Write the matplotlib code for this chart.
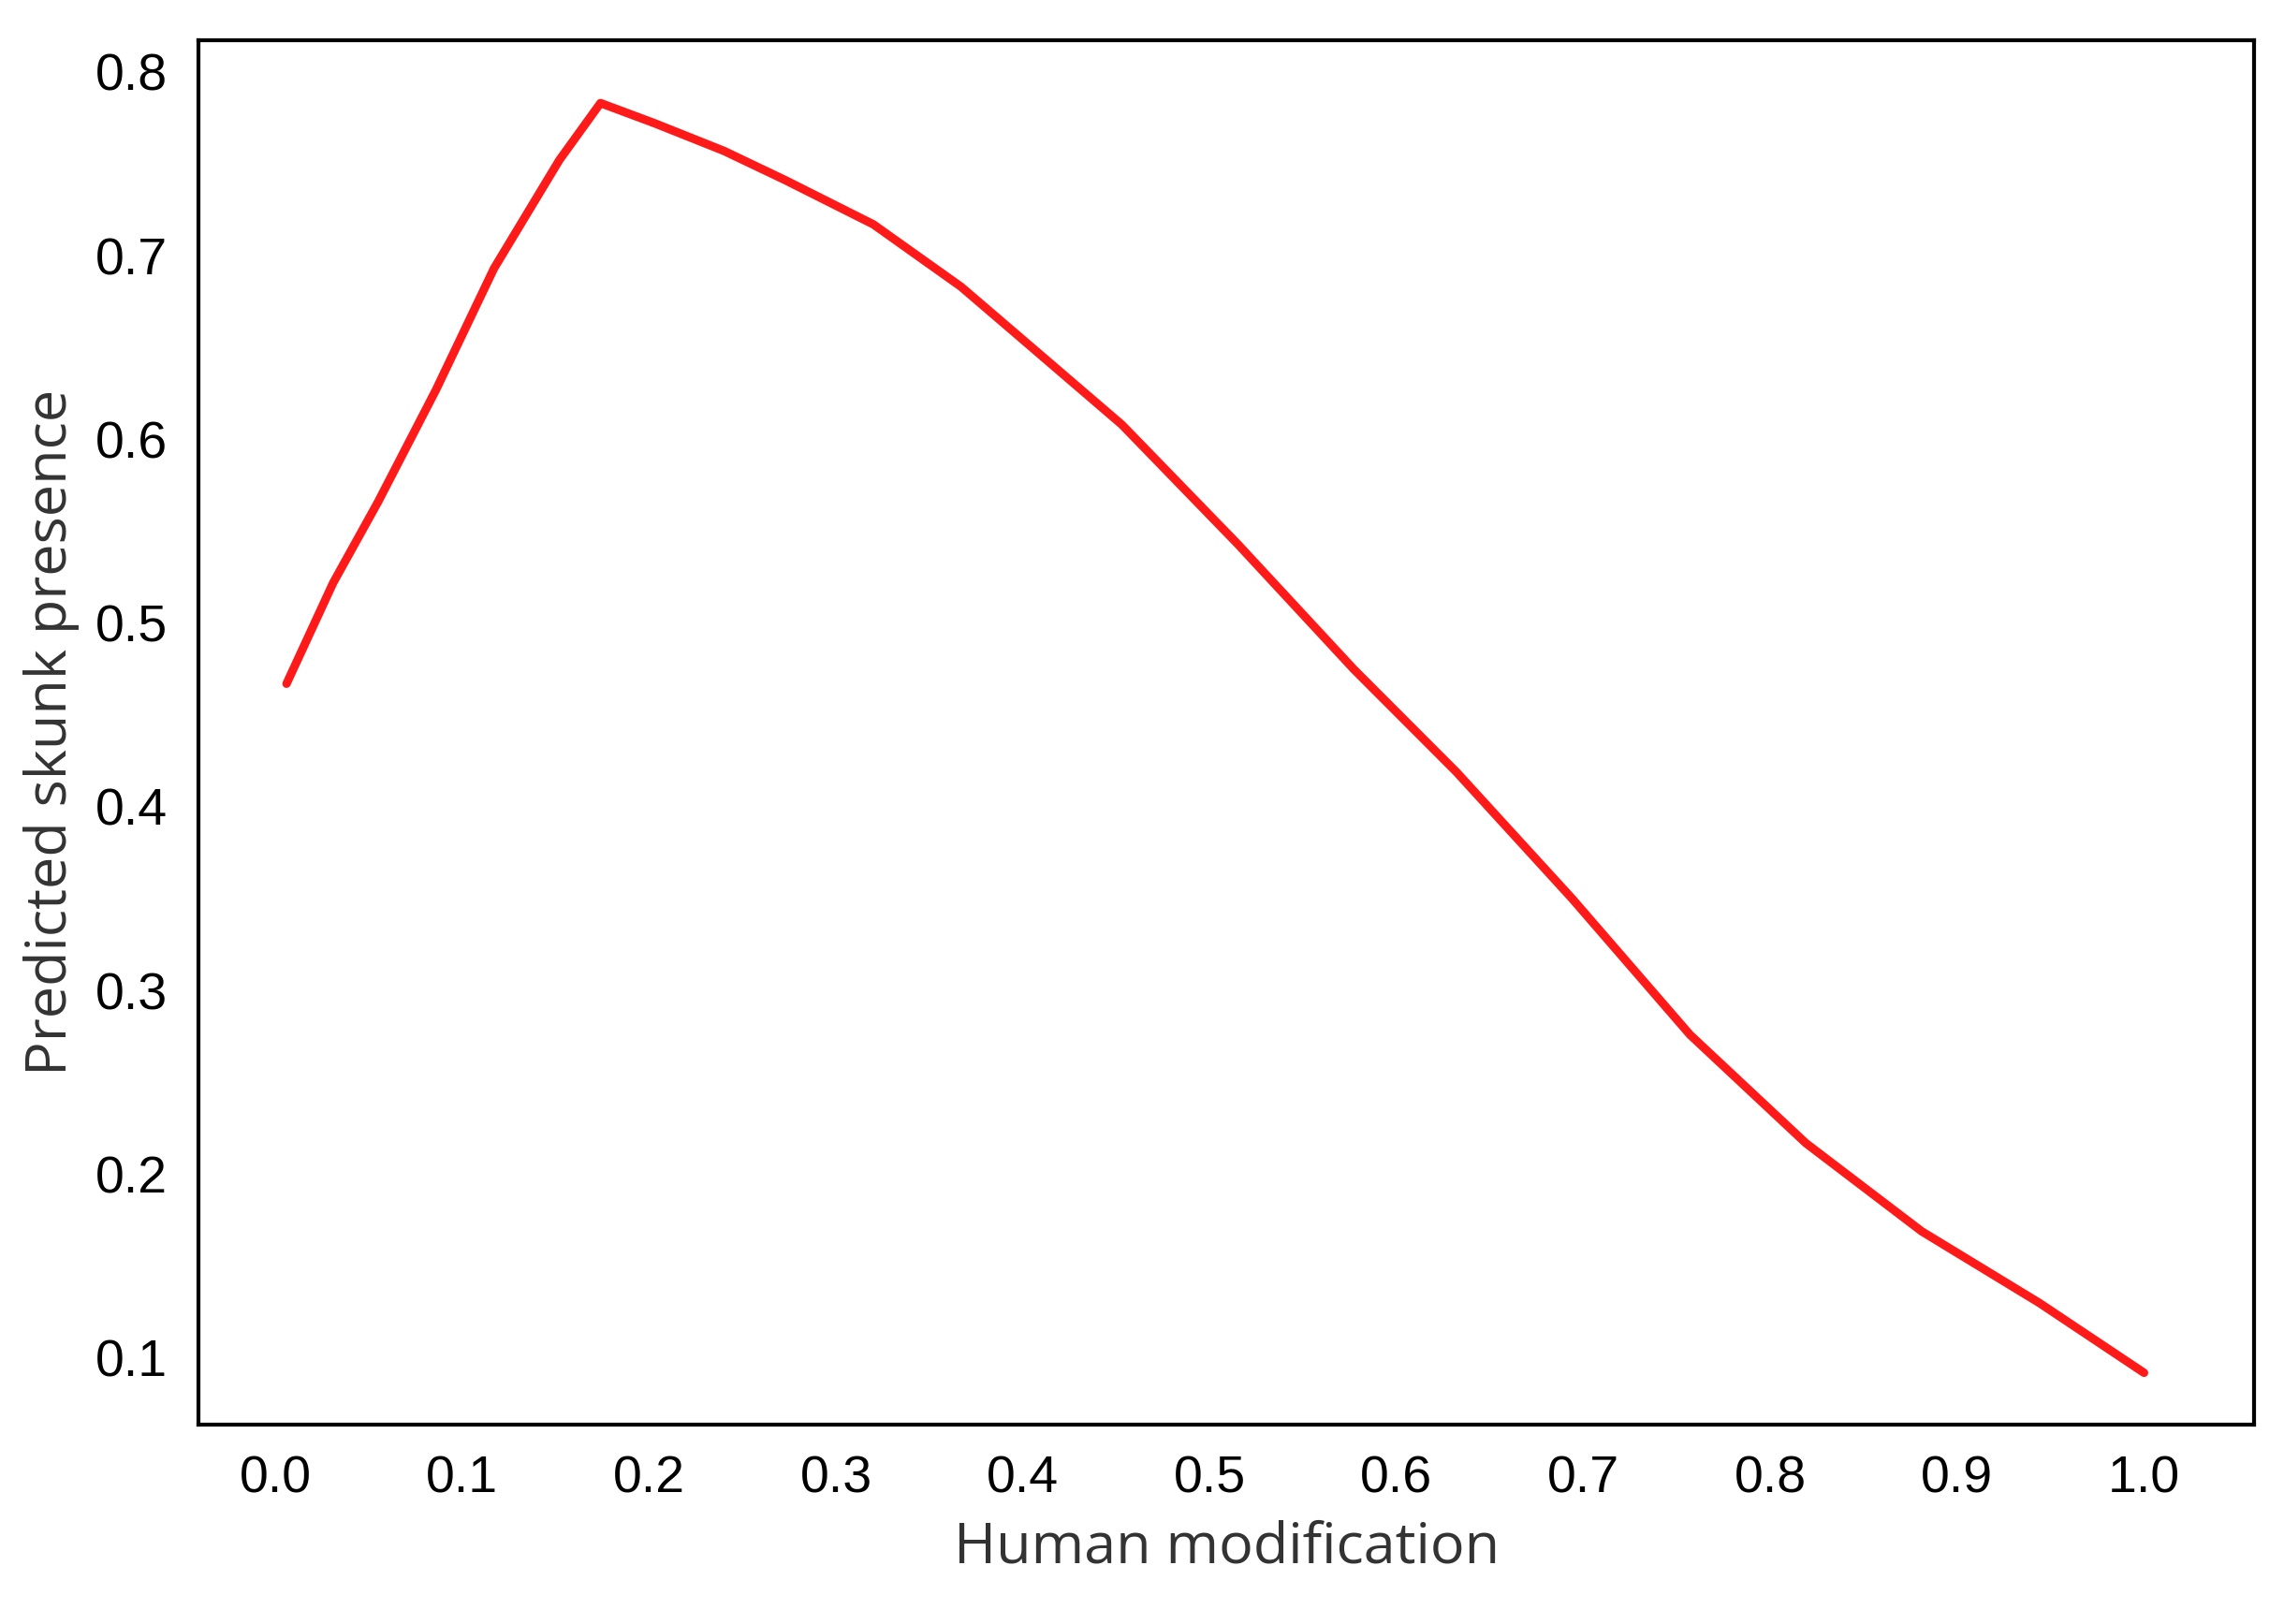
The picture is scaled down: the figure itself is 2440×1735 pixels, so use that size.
import matplotlib
matplotlib.use("Agg")
import matplotlib.pyplot as plt

# values
hm = [0.006, 0.031, 0.055, 0.086, 0.117, 0.152, 0.174, 0.203, 0.240, 0.273, 0.320,
      0.367, 0.398, 0.453, 0.515, 0.577, 0.632, 0.694, 0.757, 0.819, 0.881,
      0.944, 1.0]
presence = [0.467, 0.522, 0.566, 0.627, 0.693, 0.752, 0.783, 0.772, 0.757, 0.741, 0.717,
            0.683, 0.656, 0.608, 0.543, 0.475, 0.419, 0.350, 0.276, 0.217, 0.169,
            0.130, 0.092]
xticks = [0.0, 0.1, 0.2, 0.3, 0.4, 0.5, 0.6, 0.7, 0.8, 0.9, 1.0]
yticks = [0.1, 0.2, 0.3, 0.4, 0.5, 0.6, 0.7, 0.8]

fig = plt.figure(figsize=(24.4, 17.35), dpi=100)
ax = fig.add_axes([0.087, 0.123, 0.90, 0.852])
ax.plot(hm, presence, color="#ff1a1a", lw=6.5, solid_capstyle="round")
ax.set_xlim(-0.041, 1.059)
ax.set_ylim(0.064, 0.817)
ax.set_xticks(xticks)
ax.set_xticklabels([f"{v:.1f}" for v in xticks], family="Liberation Sans")
ax.set_yticks(yticks)
ax.set_yticklabels([f"{v:.1f}" for v in yticks], family="Liberation Sans")
ax.tick_params(length=0, labelsize=40, pad=24)
for s in ax.spines.values():
    s.set_linewidth(3)
ax.set_xlabel("Human modification", fontsize=44, family="Open Sans", color="#333333", labelpad=12)
ax.set_ylabel("Predicted skunk presence", fontsize=44, family="Open Sans", color="#333333", labelpad=12)
fig.savefig("out.png", dpi=100)
